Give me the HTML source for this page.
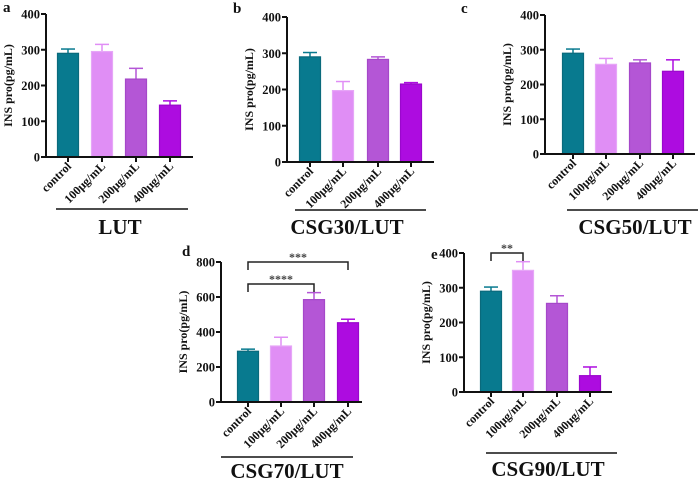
<!DOCTYPE html>
<html><head><meta charset="utf-8">
<style>
html,body{margin:0;padding:0;background:#fff;}
svg{display:block;font-family:"Liberation Serif",serif;font-weight:bold;}
</style></head>
<body>
<svg id="fig" width="700" height="478" viewBox="0 0 700 478"></svg>
<script>
const categories = ["control","100μg/mL","200μg/mL","400μg/mL"];
const valuesA = [290,295,218,145];
const errorsA = [12,20,30,12];
const valuesB = [290,197,283,215];
const errorsB = [12,25,7,4];
const valuesC = [290,258,262,238];
const errorsC = [12,17,9,33];
const valuesD = [290,320,585,453];
const errorsD = [12,50,40,20];
const valuesE = [290,350,255,47];
const errorsE = [12,25,22,25];
const ticksSmall = [0,100,200,300,400];
const ticksLarge = [0,200,400,600,800];
const colors = ["#087a8f","#e08ef5","#b456d6","#ad0ce0"];
const edges = ["#0a6a7c","#e6a6f7","#a548c9","#9a08cc"];

const NS="http://www.w3.org/2000/svg";
const svg=document.getElementById('fig');
function mk(tag,attrs,parent){const e=document.createElementNS(NS,tag);for(const k in attrs)e.setAttribute(k,attrs[k]);(parent||svg).appendChild(e);return e;}

const panels=[
 {id:'a',ax:46,y0:157,yTop:14,xs:[68,102,136,170],end:193,lineY:209,lx1:56,lx2:188,title:'LUT',tcx:120,ty:234,lbx:3,lby:12,max:400,ticks:ticksSmall,vals:valuesA,errs:errorsA,sig:[]},
 {id:'b',ax:287,y0:162,yTop:17,xs:[310,343,378,411],end:434,lineY:210,lx1:295,lx2:426,title:'CSG30/LUT',tcx:347,ty:234,lbx:233,lby:13,max:400,ticks:ticksSmall,vals:valuesB,errs:errorsB,sig:[]},
 {id:'c',ax:545,y0:154,yTop:15,xs:[573,606,640,673],end:695,lineY:210,lx1:567,lx2:698,title:'CSG50/LUT',tcx:635,ty:234,lbx:461,lby:13,max:400,ticks:ticksSmall,vals:valuesC,errs:errorsC,sig:[]},
 {id:'d',ax:221,y0:402,yTop:262,xs:[248,281,314,348],end:362,lineY:457,lx1:221,lx2:353,title:'CSG70/LUT',tcx:287,ty:478,lbx:182,lby:256,max:800,ticks:ticksLarge,vals:valuesD,errs:errorsD,
   sig:[{a:0,b:3,y:262,label:'***'},{a:0,b:2,y:284,label:'****'}]},
 {id:'e',ax:464,y0:392,yTop:253,xs:[491,523,557,590],end:612,lineY:453,lx1:486,lx2:617,title:'CSG90/LUT',tcx:548,ty:476,lbx:431,lby:259,max:400,ticks:ticksSmall,vals:valuesE,errs:errorsE,
   sig:[{a:0,b:1,y:253,label:'**'}]}
];

panels.forEach(p=>{
  const g=mk('g',{});
  
  
  const ys=v=>p.y0-(v/p.max)*(p.y0-p.yTop);
  const lbl=mk('text',{x:p.lbx,y:p.lby,'font-size':15,fill:'#111'},g);lbl.textContent=p.id;
  
  
  p.vals.forEach((v,i)=>{
    const x=p.xs[i];const y=ys(v);const ye=ys(v+p.errs[i]);
    const eb=mk('g',{},g);
    
    
    mk('line',{x1:x,x2:x,y1:y,y2:ye,stroke:colors[i],'stroke-width':1.5},eb);
    mk('line',{x1:x-7,x2:x+7,y1:ye,y2:ye,stroke:colors[i],'stroke-width':1.5},eb);
    const r=mk('rect',{x:x-10.5,y:y,width:21,height:p.y0-y,fill:colors[i],stroke:edges[i],'stroke-width':1.2},g);
    
    
  });
  const ya=mk('g',{},g);
  
  
  mk('line',{x1:p.ax,x2:p.ax,y1:p.yTop,y2:p.y0+1,stroke:'#111','stroke-width':2},ya);
  p.ticks.forEach(t=>{
    const y=ys(t);
    mk('line',{x1:p.ax-5,x2:p.ax,y1:y,y2:y,stroke:'#111','stroke-width':2},ya);
    const tx=mk('text',{x:p.ax-6,y:y+4.5,'font-size':12.5,'text-anchor':'end',fill:'#111'},ya);tx.textContent=t;
  });
  const yt=mk('text',{x:0,y:0,'font-size':12,'text-anchor':'middle',fill:'#111',transform:`translate(${p.ax-34},${(p.y0+p.yTop)/2}) rotate(-90)`},g);
  yt.textContent='INS pro(pg/mL)';
  
  
  const xa=mk('g',{},g);
  
  
  mk('line',{x1:p.ax-1,x2:p.end,y1:p.y0,y2:p.y0,stroke:'#111','stroke-width':2},xa);
  categories.forEach((c,i)=>{
    const x=p.xs[i];
    mk('line',{x1:x,x2:x,y1:p.y0,y2:p.y0+5,stroke:'#111','stroke-width':2},xa);
    const tx=mk('text',{x:0,y:0,'font-size':12,'text-anchor':'end',fill:'#111',transform:`translate(${x+4},${p.y0+10}) rotate(-45)`},xa);
    tx.textContent=c;
  });
  mk('line',{x1:p.lx1,x2:p.lx2,y1:p.lineY,y2:p.lineY,stroke:'#111','stroke-width':1.5},g);
  const tt=mk('text',{x:p.tcx,y:p.ty,'font-size':21,'text-anchor':'middle',fill:'#111'},g);
  tt.textContent=p.title;
  
  
  p.sig.forEach(s=>{
    const sg=mk('g',{},g);
    
    
    const x1=p.xs[s.a],x2=p.xs[s.b];
    mk('polyline',{points:`${x1},${s.y+8} ${x1},${s.y} ${x2},${s.y} ${x2},${s.y+8}`,fill:'none',stroke:'#222','stroke-width':1.5},sg);
    const st=mk('text',{x:(x1+x2)/2,y:s.y-1,'font-size':12,'text-anchor':'middle',fill:'#444'},sg);
    st.textContent=s.label;
  });
});
</script>
</body></html>
